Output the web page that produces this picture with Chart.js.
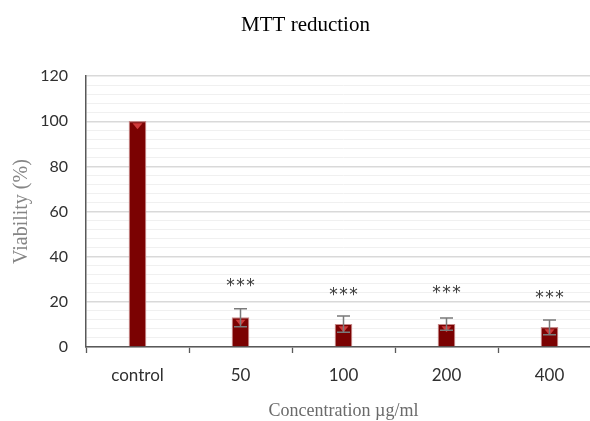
<!DOCTYPE html>
<html>
<head>
<meta charset="utf-8">
<script src="https://cdn.jsdelivr.net/npm/chart.js@4/dist/chart.umd.min.js"></script>
<style>
  html, body { margin: 0; padding: 0; background: #fff; overflow: hidden; }
  #wrap { width: 605px; height: 421px; }
</style>
</head>
<body>
<div id="wrap"><canvas id="mtt" width="605" height="421"></canvas></div>
<script>
// ── Data ──
const categories = ['control', '50', '100', '200', '400'];
const viability = [100, 13, 10.1, 10.1, 8.7];
const errors = [0, 4, 3.6, 2.7, 3.3];
const starLevels = [null, 28.5, 24.7, 25.6, 23.4];

// error bars, triangle markers and significance stars drawn over bars
const overlayPlugin = {
    id: 'overlay',
    afterDatasetsDraw(chart) {
        const ctx = chart.ctx;
        const y = chart.scales.y;
        const meta = chart.getDatasetMeta(0);
        meta.data.forEach((bar, i) => {
            const x = bar.x;
            const top = bar.y;
            // triangle marker at the top of the bar
            ctx.save();
            ctx.fillStyle = '#cf3b3b';
            ctx.beginPath();
            ctx.moveTo(x - 5, top + 2);
            ctx.lineTo(x + 5, top + 2);
            ctx.lineTo(x, top + 8);
            ctx.closePath();
            ctx.fill();
            ctx.restore();

            if (errors[i] > 0) {
                const hi = y.getPixelForValue(viability[i] + errors[i]);
                const lo = y.getPixelForValue(viability[i] - errors[i]);
                ctx.save();
                ctx.strokeStyle = '#7a7a7a';
                ctx.lineWidth = 1.5;
                ctx.beginPath();
                ctx.moveTo(x, hi); ctx.lineTo(x, lo);
                ctx.moveTo(x - 6.5, hi); ctx.lineTo(x + 6.5, hi);
                ctx.moveTo(x - 6.5, lo); ctx.lineTo(x + 6.5, lo);
                ctx.stroke();
                ctx.restore();
            }

            if (starLevels[i] !== null) {
                const sy = y.getPixelForValue(starLevels[i]) + 4;
                ctx.save();
                ctx.fillStyle = '#3a3a3a';
                ctx.font = '17px "DejaVu Sans"';
                ctx.textAlign = 'center';
                ctx.textBaseline = 'middle';
                [-10, 0, 10].forEach(dx => ctx.fillText('*', x + dx, sy));
                ctx.restore();
            }
        });
    }
};

new Chart(document.getElementById('mtt'), {
    type: 'bar',
    data: {
        labels: categories,
        datasets: [{
            data: viability,
            backgroundColor: '#7b0202',
            borderColor: 'rgba(190,120,120,0.85)',
            borderWidth: 1.2,
            barThickness: 17
        }]
    },
    options: {
        responsive: false,
        animation: false,
        layout: { padding: { left: 10, right: 4, top: 0, bottom: -1 } },
        plugins: {
            legend: { display: false },
            tooltip: { enabled: false },
            title: {
                display: true,
                text: 'MTT reduction',
                color: '#000',
                font: { family: '"Liberation Serif"', size: 21, weight: 'normal' },
                padding: { top: 13, bottom: 38 }
            }
        },
        scales: {
            x: {
                grid: {
                    display: true,
                    offset: true,
                    drawOnChartArea: false,
                    color: '#595959',
                    tickLength: 6,
                    tickWidth: 1.3
                },
                border: { color: '#595959', width: 1.5 },
                ticks: {
                    color: '#303030',
                    font: { family: 'Lato', size: 17 },
                    padding: 12
                },
                title: {
                    display: true,
                    text: 'Concentration µg/ml',
                    color: '#6a6a6a',
                    font: { family: '"Liberation Serif"', size: 18 },
                    padding: { top: 3, bottom: 0 }
                }
            },
            y: {
                min: 0,
                max: 120,
                afterFit(scale) { scale.width = 76; },
                grid: {
                    drawTicks: false,
                    color: ctx => (ctx.tick.value % 20 === 0 ? '#d9d9d9' : '#f0f0f0'),
                    lineWidth: ctx => (ctx.tick.value % 20 === 0 ? 1.5 : 1)
                },
                border: { color: '#595959', width: 1.5 },
                ticks: {
                    stepSize: 4,
                    autoSkip: false,
                    color: '#303030',
                    font: { family: 'Lato', size: 16 },
                    padding: 18,
                    callback: v => (v % 20 === 0 ? String(v) : '')
                },
                title: {
                    display: true,
                    text: 'Viability (%)',
                    color: '#858585',
                    font: { family: '"Liberation Serif"', size: 20 },
                    padding: { top: 0, bottom: 2 }
                }
            }
        }
    },
    plugins: [overlayPlugin]
});
</script>
</body>
</html>
